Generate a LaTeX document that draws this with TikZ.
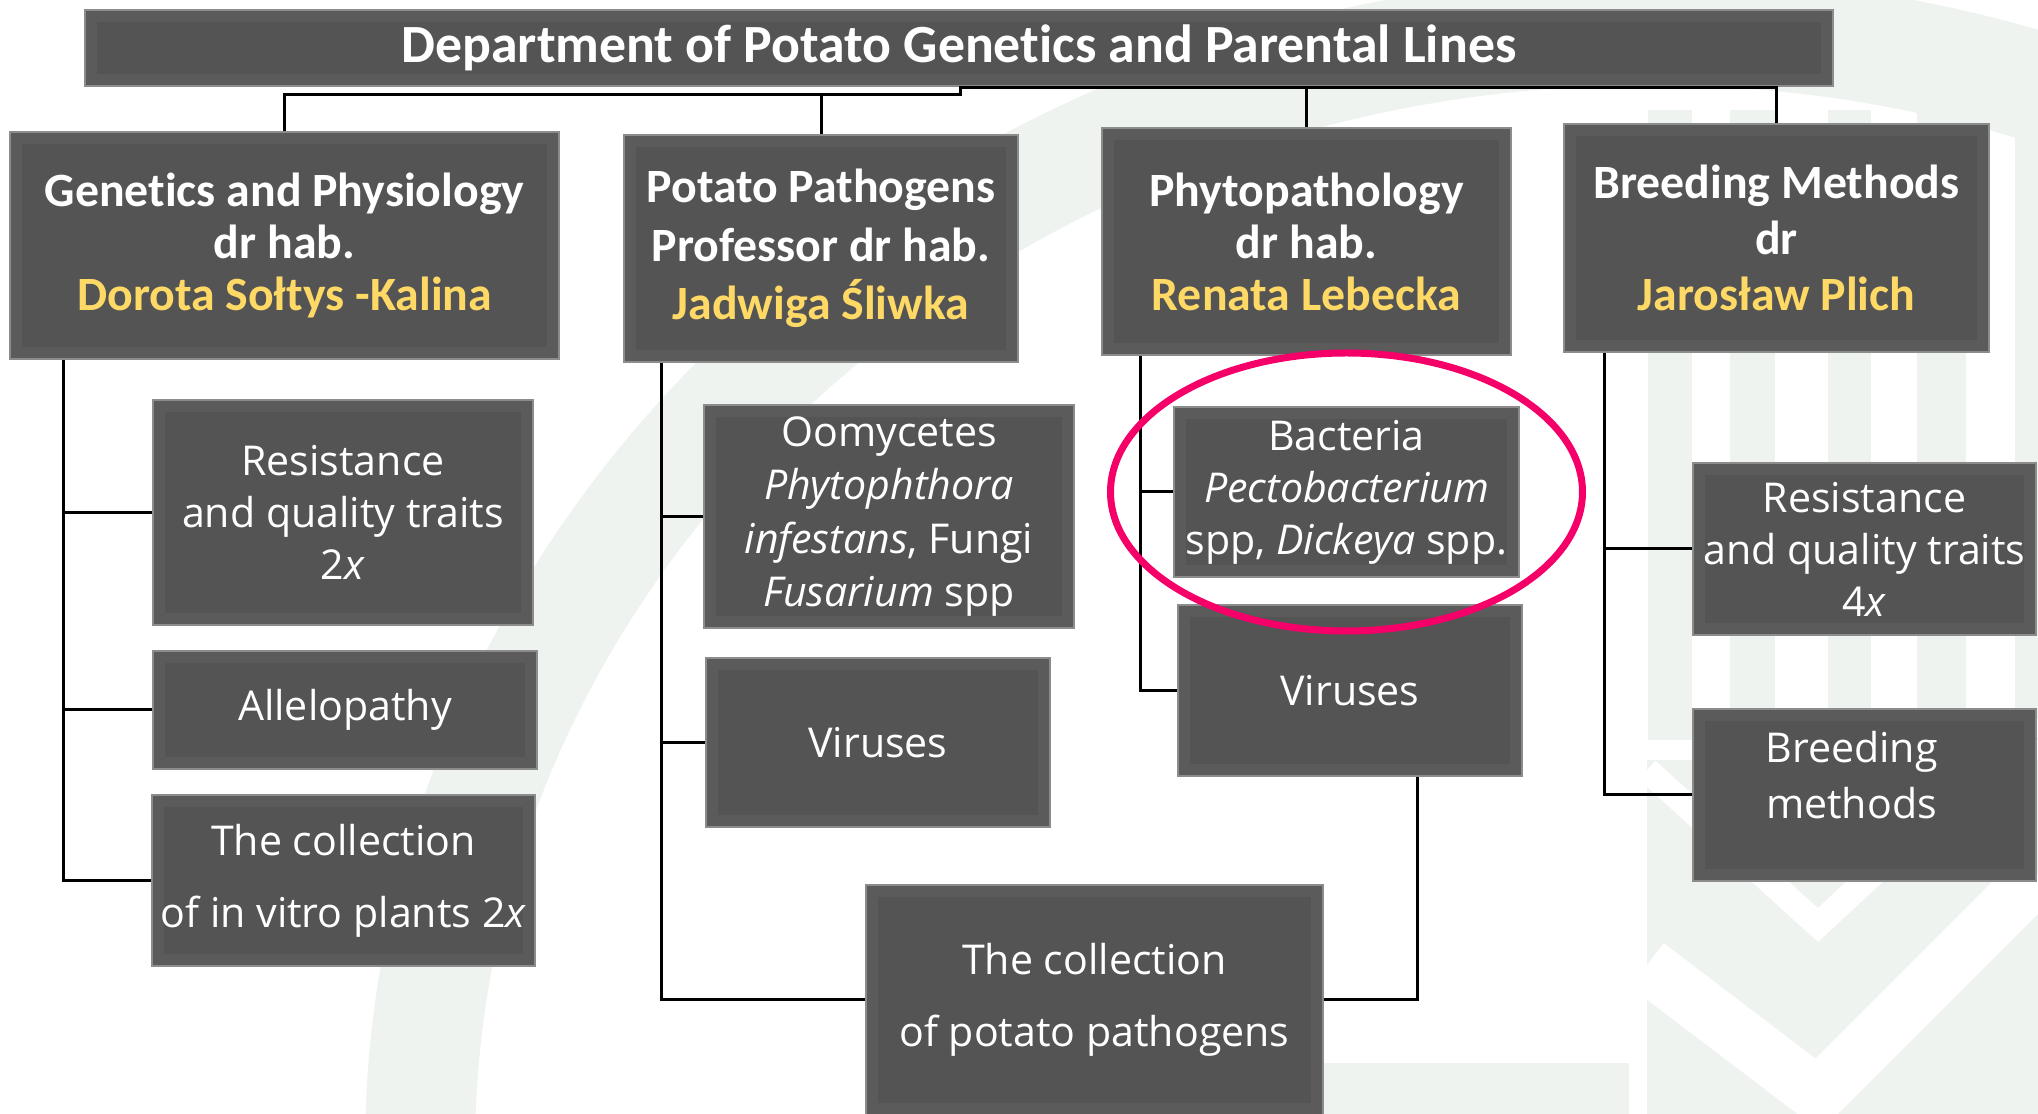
\documentclass[tikz,border=0pt]{standalone}
\usepackage{fontspec}
\setmainfont{Open Sans}
\newfontfamily\headfont{Carlito}[Ligatures=NoCommon]
\usetikzlibrary{calc, shapes.geometric}

\definecolor{boxfill}{RGB}{84,84,84}
\definecolor{boxbevel}{RGB}{91,91,91}
\definecolor{boxedge}{RGB}{140,140,140}
\definecolor{namecol}{RGB}{255,217,102}
\definecolor{ringcol}{RGB}{245,0,105}
\definecolor{wmark}{RGB}{239,243,240}

\tikzset{
  unit/.style = {
    rectangle, draw=boxedge, line width=0.25mm, fill=boxbevel,
    text=white, align=center, inner sep=0pt,
    font=\fontsize{11.7}{14.8}\selectfont,
    path picture={\fill[boxfill]
      ([shift={(1.2mm,-1.2mm)}]path picture bounding box.north west) rectangle
      ([shift={(-1.2mm,1.2mm)}]path picture bounding box.south east);}
  },
  head/.style = {unit, font=\headfont\bfseries\fontsize{13.6}{14.8}\selectfont},
  link/.style = {draw=black, line width=0.3mm},
  ring/.style = {draw=ringcol, line width=0.7mm}
}
\newcommand{\who}[1]{\textcolor{namecol}{#1}}

\begin{document}
\begin{tikzpicture}[x=0.1mm, y=-0.1mm]
  \useasboundingbox (0,0) rectangle (2038,1114);
  \clip (0,0) rectangle (2038,1114);

  % Background logo (faint)
  \draw[wmark, line width=11mm] (420,1150)
    arc[start angle=180, end angle=20, x radius=123mm, y radius=112mm];
  \foreach \a/\b in {1648/1692, 1730/1775, 1828/1871, 1917/1966, 2015/2038}
    \fill[wmark] (\a,110) rectangle (\b,740);
  \fill[wmark] (1647,760) rectangle (2038,1114);
  \fill[wmark] (1323,1063) rectangle (1629,1114);
  \draw[white, line width=2.5mm] (1647,770) -- (1818,925) -- (2038,720);
  \draw[white, line width=5.5mm] (1647,965) -- (1818,1095) -- (2038,875);

  % Department and sections
  \node[head, minimum width=174.8mm, minimum height=7.6mm,
        font=\headfont\bfseries\fontsize{15.3}{17}\selectfont]
        (title) at (959,48) {Department of Potato Genetics and Parental Lines};
  \node[head, minimum width=54.9mm, minimum height=22.7mm] (gen) at (284.5,245.5)
    {Genetics and Physiology\\dr hab.\\\who{Dorota Sołtys -Kalina}};
  \node[head, minimum width=39.4mm, minimum height=22.7mm,
        font=\headfont\bfseries\fontsize{13.6}{16.6}\selectfont] (path) at (821,248.5)
    {Potato Pathogens\\Professor dr hab.\\\who{Jadwiga Śliwka}};
  \node[head, minimum width=40.9mm, minimum height=22.7mm] (phyto) at (1306.5,241.5)
    {Phytopathology\\dr hab.\\\who{Renata Lebecka}};
  \node[head, minimum width=42.5mm, minimum height=22.8mm,
        font=\headfont\bfseries\fontsize{13.6}{15.9}\selectfont] (breed) at (1776.5,238)
    {Breeding Methods\\dr\\\who{Jarosław Plich}};

  % Units
  \node[unit, minimum width=38mm, minimum height=22.5mm] (res2) at (343,512.5)
    {Resistance\\and quality traits\\2\textit{x}};
  \node[unit, minimum width=38.4mm, minimum height=11.8mm] (alle) at (345,710)
    {Allelopathy};
  \node[unit, minimum width=38.3mm, minimum height=17.1mm,
        font=\fontsize{11.7}{20.5}\selectfont] (vitro) at (343.5,880.5)
    {The collection\\of in vitro plants 2\textit{x}};
  \node[unit, minimum width=37mm, minimum height=22.3mm,
        font=\fontsize{11.7}{15.2}\selectfont] (oomy) at (889,516.5)
    {Oomycetes\\\textit{Phytophthora}\\\textit{infestans}, Fungi\\\textit{Fusarium} spp};
  \node[unit, minimum width=34.4mm, minimum height=16.9mm] (vir1) at (878,742.5)
    {Viruses};
  \node[unit, minimum width=45.7mm, minimum height=23mm,
        font=\fontsize{11.7}{20.5}\selectfont] (coll) at (1094.5,1000)
    {The collection\\of potato pathogens};
  \node[unit, minimum width=34.5mm, minimum height=17mm] (bact) at (1346.5,492)
    {Bacteria\\\textit{Pectobacterium}\\spp, \textit{Dickeya} spp.};
  \node[unit, minimum width=34.4mm, minimum height=17.1mm] (vir2) at (1350,690.5)
    {Viruses};
  \node[unit, minimum width=34.3mm, minimum height=17.2mm] (res4) at (1864.5,549)
    {Resistance\\and quality traits\\4\textit{x}};
  \node[unit, minimum width=34.3mm, minimum height=17.2mm, text depth=4mm,
        font=\fontsize{11.7}{15.9}\selectfont] (bmeth) at (1864.5,795)
    {Breeding\hspace*{2.6mm}\\methods\hspace*{2.6mm}};

  % Links
  \coordinate (bus1) at (960,95);
  \coordinate (bus2) at (960,88);
  \draw[link] (gen.north) -- (gen.north |- bus1) -- (bus1) -- (bus2) -| (breed.north);
  \draw[link] (path.north) -- (path.north |- bus1);
  \draw[link] (phyto.north) -- (phyto.north |- bus2);

  \coordinate (spineG) at ($(gen.south west)+(55,0)$);
  \coordinate (spineP) at ($(path.south west)+(39,0)$);
  \coordinate (spineF) at ($(phyto.south west)+(40,0)$);
  \coordinate (spineB) at ($(breed.south west)+(42,0)$);
  \foreach \n in {res2, alle, vitro} \draw[link] (\n.west) -| (spineG);
  \foreach \n in {oomy, vir1, coll} \draw[link] (\n.west) -| (spineP);
  \foreach \n in {bact, vir2} \draw[link] (\n.west) -| (spineF);
  \foreach \n in {res4, bmeth} \draw[link] (\n.west) -| (spineB);
  \draw[link] ($(vir2.south)+(67,0)$) |- (coll.east);

  % Highlight
  \draw[ring] (bact.center) ellipse [x radius=23.6mm, y radius=13.9mm];
\end{tikzpicture}
\end{document}
